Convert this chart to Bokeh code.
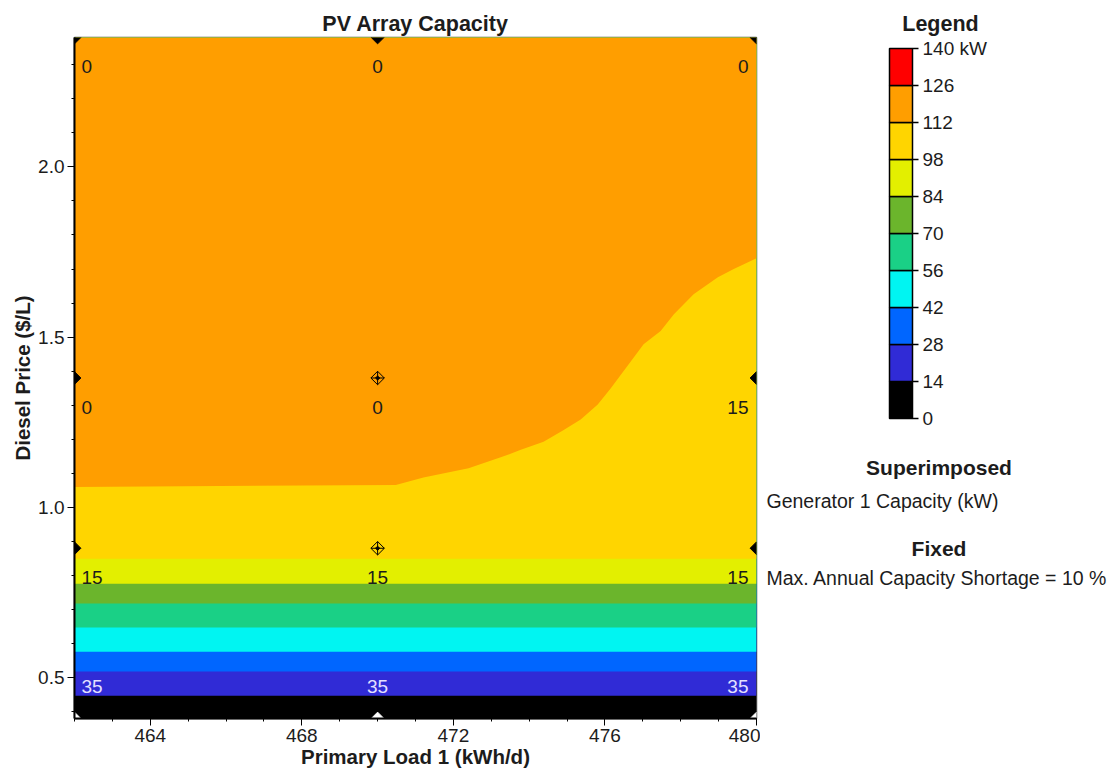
import numpy as np
from bokeh.plotting import figure
from bokeh.layouts import row
from bokeh.models import Range1d, FixedTicker, ColumnDataSource
from bokeh.core.properties import value
from bokeh.embed import file_html
from bokeh.resources import INLINE

FONT = "Liberation Sans"
TEXT_DARK = "#1c1c1c"

# Sensitivity grid
PRIMARY_LOAD = [462, 470, 480]            # kWh/d
DIESEL_PRICE = [0.38, 0.88, 1.38, 2.38]    # $/L

# Superimposed Generator 1 capacity (kW) at each grid point, one row per diesel price
GEN_CAP_038 = [35, 35, 35]
GEN_CAP_088 = [15, 15, 15]
GEN_CAP_138 = [0, 0, 15]
GEN_CAP_238 = [0, 0, 0]

# PV array capacity classes (kW) and their colours
PV_LEVELS = [0, 14, 28, 42, 56, 70, 84, 98, 112, 126, 140]
PV_LEVEL_LABELS = ["0", "14", "28", "42", "56", "70", "84", "98", "112", "126", "140 kW"]
PV_COLORS = ["#000000", "#302bd6", "#0066ff", "#00f5f2", "#1ad086",
             "#6bb52c", "#e3ef00", "#ffd500", "#ff9e00", "#ff0000"]

# Diesel price where each of the lower classes (0-14 ... 98-112 kW) begins
CLASS_START_PRICE = [0.38, 0.447, 0.518, 0.576, 0.647, 0.718, 0.776, 0.849]

# Boundary between the 98-112 kW and 112-126 kW classes
BOUNDARY_LOAD = [462.0, 470.48, 471.21, 471.66, 472.40, 473.25, 473.78, 474.38, 474.89,
                 475.36, 475.81, 476.15, 476.76, 477.02, 477.47, 477.82, 478.34, 478.98,
                 479.40, 480.0]
BOUNDARY_PRICE = [1.060, 1.066, 1.088, 1.098, 1.115, 1.147, 1.169, 1.193, 1.226,
                  1.258, 1.302, 1.349, 1.440, 1.479, 1.518, 1.567, 1.626, 1.676,
                  1.700, 1.732]

X_TICKS = [464, 468, 472, 476, 480]
X_MINOR = list(range(462, 481))
Y_TICKS = [0.5, 1.0, 1.5, 2.0]
Y_TICK_LABELS = ["0.5", "1.0", "1.5", "2.0"]
Y_MINOR = [round(0.4 + 0.1 * i, 1) for i in range(20)]

x_lo, x_hi = PRIMARY_LOAD[0], PRIMARY_LOAD[-1]
y_lo, y_hi = DIESEL_PRICE[0], DIESEL_PRICE[-1]

BORDER_TOP, BORDER_BOTTOM = 37, 54
HEIGHT = 772


def style_title(fig):
    fig.title.align = "center"
    fig.title.text_font = FONT
    fig.title.text_font_size = "21.5px"
    fig.title.text_font_style = "bold"
    fig.title.text_color = TEXT_DARK
    fig.title.standoff = 4


# ---------------- main surface plot ----------------
p = figure(width=760, height=HEIGHT, x_range=Range1d(x_lo, x_hi), y_range=Range1d(y_lo, y_hi),
           output_backend="svg", toolbar_location=None, title="PV Array Capacity",
           min_border_left=74, min_border_right=4,
           min_border_top=BORDER_TOP, min_border_bottom=BORDER_BOTTOM)
p.background_fill_color = "white"
p.border_fill_color = "white"
p.outline_line_color = "#555555"
p.outline_line_width = 1.5
p.xgrid.visible = False
p.ygrid.visible = False
style_title(p)

for ax in (p.xaxis, p.yaxis):
    ax.axis_line_width = 2
    ax.axis_line_color = "black"
    ax.major_tick_line_color = "black"
    ax.minor_tick_line_color = "black"
    ax.major_tick_in = 0
    ax.minor_tick_in = 0
    ax.major_tick_out = 7
    ax.minor_tick_out = 3
    ax.major_label_text_font = FONT
    ax.major_label_text_font_size = "19px"
    ax.major_label_text_color = TEXT_DARK
    ax.axis_label_text_font = FONT
    ax.axis_label_text_font_size = "20.5px"
    ax.axis_label_text_font_style = "bold"
    ax.axis_label_text_color = TEXT_DARK
    ax.axis_label_standoff = 0
    ax.major_label_standoff = 3

p.yaxis.axis_label_standoff = 1

p.xaxis.ticker = FixedTicker(ticks=X_TICKS, minor_ticks=X_MINOR)
p.yaxis.ticker = FixedTicker(ticks=Y_TICKS, minor_ticks=Y_MINOR)
p.yaxis.major_label_overrides = dict(zip(Y_TICKS, Y_TICK_LABELS))
p.xaxis.axis_label = "Primary Load 1 (kWh/d)"
p.yaxis.axis_label = "Diesel Price ($/L)"

# Horizontal capacity classes, each painted from its start up to the top of the plot
n_flat = len(CLASS_START_PRICE)
p.quad(left=x_lo, right=x_hi, bottom=CLASS_START_PRICE, top=[y_hi] * n_flat,
       fill_color=PV_COLORS[:n_flat], line_color=None)
# 112-126 kW region above the curved boundary
p.varea(x=BOUNDARY_LOAD, y1=BOUNDARY_PRICE, y2=[y_hi] * len(BOUNDARY_LOAD),
        fill_color=PV_COLORS[n_flat])

# Grid point markers and superimposed generator capacities
gen_rows = {0.38: GEN_CAP_038, 0.88: GEN_CAP_088, 1.38: GEN_CAP_138, 2.38: GEN_CAP_238}
edge = dict(x=[], y=[], c=[])
inner = dict(x=[], y=[])
lab = dict(x=[], y=[], text=[], align=[], xo=[], yo=[], color=[])
for yi, price in enumerate(DIESEL_PRICE):
    for xi, load in enumerate(PRIMARY_LOAD):
        on_edge = xi in (0, len(PRIMARY_LOAD) - 1) or yi in (0, len(DIESEL_PRICE) - 1)
        bottom_row = yi == 0
        if on_edge:
            edge["x"].append(load)
            edge["y"].append(price)
            edge["c"].append("white" if bottom_row else "black")
        else:
            inner["x"].append(load)
            inner["y"].append(price)
        lab["x"].append(load)
        lab["y"].append(price)
        lab["text"].append(str(gen_rows[price][xi]))
        lab["align"].append(["left", "center", "right"][xi])
        lab["xo"].append([7, 0, -8][xi])
        lab["yo"].append(-32 if bottom_row else 29)
        lab["color"].append("#e4e0ff" if bottom_row else TEXT_DARK)

p.scatter(x="x", y="y", source=ColumnDataSource(edge), marker="square", angle=np.pi / 4,
          size=9, fill_color="c", line_color="c")
p.scatter(x="x", y="y", source=ColumnDataSource(inner), marker="square_x", angle=np.pi / 4,
          size=9.5, fill_color=None, line_color="black", line_width=1)
p.scatter(x="x", y="y", source=ColumnDataSource(inner), marker="square", angle=np.pi / 4,
          size=3, color="black")

p.text(x="x", y="y", text="text", source=ColumnDataSource(lab), text_align="align",
       text_baseline="middle", x_offset="xo", y_offset="yo", text_color="color",
       text_font=value(FONT), text_font_size="19px")

# ---------------- legend panel ----------------
BAR_TOP_PX, BAR_BOTTOM_PX = 48, 418
kw_per_px = (PV_LEVELS[-1] - PV_LEVELS[0]) / (BAR_BOTTOM_PX - BAR_TOP_PX)


def at_px(py):
    """Vertical position (in legend kW units) of a page pixel row."""
    return PV_LEVELS[0] + (BAR_BOTTOM_PX - py) * kw_per_px


q = figure(width=360, height=HEIGHT, x_range=Range1d(760, 1120),
           y_range=Range1d(at_px(HEIGHT - BORDER_BOTTOM), at_px(BORDER_TOP)),
           output_backend="svg", toolbar_location=None, x_axis_type=None, y_axis_type=None,
           title="Legend", min_border_left=0, min_border_right=0,
           min_border_top=BORDER_TOP, min_border_bottom=BORDER_BOTTOM)
q.outline_line_color = None
q.background_fill_color = "white"
q.border_fill_color = "white"
style_title(q)
q.title.offset = -2

q.quad(left=889, right=912, bottom=PV_LEVELS[:-1], top=PV_LEVELS[1:],
       fill_color=PV_COLORS, line_color="black", line_width=1.5)
q.segment(x0=912, x1=918, y0=PV_LEVELS, y1=PV_LEVELS, line_color="black", line_width=1.5)
q.text(x=922, y=PV_LEVELS, text=PV_LEVEL_LABELS, text_baseline="middle", text_align="left",
       text_font=value(FONT), text_font_size="19px", text_color=TEXT_DARK)

q.text(x=[938.5, 938.5], y=[at_px(467), at_px(548)],
       text=["Superimposed", "Fixed"], text_align="center", text_baseline="middle",
       text_font=value(FONT), text_font_size="21px", text_font_style="bold", text_color=TEXT_DARK)
q.text(x=[766, 766], y=[at_px(500), at_px(577)],
       text=["Generator 1 Capacity (kW)", "Max. Annual Capacity Shortage = 10 %"],
       text_align="left", text_baseline="middle",
       text_font=value(FONT), text_font_size="19.5px", text_color=TEXT_DARK)

layout = row(p, q)
open("out.html", "w").write(file_html(layout, INLINE))
